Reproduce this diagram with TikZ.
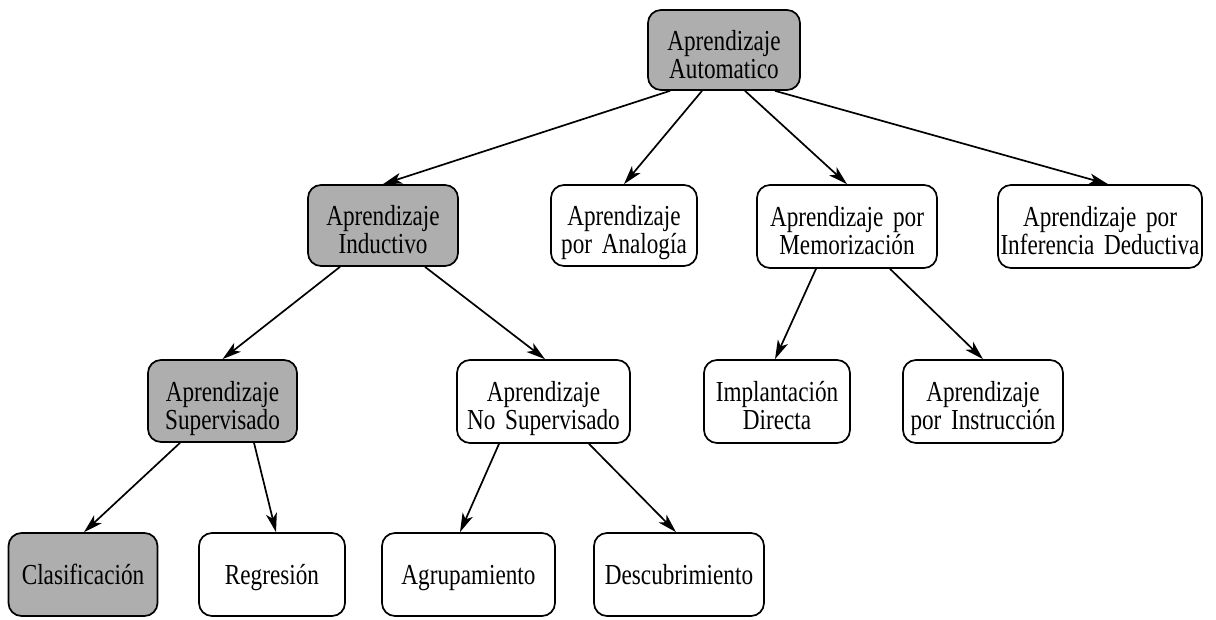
\documentclass[tikz,border=0pt]{standalone}
\usepackage{fontspec}
\setmainfont{Liberation Serif}
\newfontfamily\boxfont[FakeStretch=0.8]{Liberation Serif}
\usetikzlibrary{arrows.meta}

\definecolor{shade}{RGB}{174,174,174}

\tikzset{
  box/.style={draw, line width=1.7pt, rounded corners=13pt, inner sep=0pt, fill=white},
  graybox/.style={box, fill=shade},
  txt/.style={anchor=base, inner sep=0pt, text width=230pt, align=center,
    font=\boxfont\fontsize{29}{28}\selectfont},
  onetxt/.style={txt, yshift=-10pt},
  arr/.style={line width=1.7pt, -{Stealth[length=19pt, width=11pt, inset=5pt]}},
}

\begin{document}
\begin{tikzpicture}[x=1pt, y=-1pt]
  \useasboundingbox (0,0) rectangle (1216,619);

  % boxes
  \node[graybox, minimum width=152pt, minimum height=80pt] (top)   at (724,50)    {};
  \node[graybox, minimum width=150pt, minimum height=81pt] (ind)   at (383,225.5) {};
  \node[box,     minimum width=146pt, minimum height=81pt] (ana)   at (624,225.5) {};
  \node[box,     minimum width=180pt, minimum height=83pt] (memo)  at (847,226.5) {};
  \node[box,     minimum width=204pt, minimum height=83pt] (inf)   at (1100,226.5) {};
  \node[graybox, minimum width=149pt, minimum height=82pt] (sup)   at (222.5,401) {};
  \node[box,     minimum width=173pt, minimum height=83pt] (nosup) at (543.5,401.5) {};
  \node[box,     minimum width=146pt, minimum height=83pt] (impl)  at (777,401.5) {};
  \node[box,     minimum width=160pt, minimum height=83pt] (instr) at (983,401.5) {};
  \node[graybox, minimum width=149pt, minimum height=83pt] (clas)  at (83,574.5)  {};
  \node[box,     minimum width=146pt, minimum height=83pt] (reg)   at (272,574.5) {};
  \node[box,     minimum width=173pt, minimum height=83pt] (agr)   at (468.5,574.5) {};
  \node[box,     minimum width=170pt, minimum height=83pt] (desc)  at (679,574.5) {};

  % labels: two-line texts have their first baseline on the box centre
  \node[txt] (top-t)   at (top.center)   {Aprendizaje\\Automatico};
  \node[txt] (ind-t)   at (ind.center)   {Aprendizaje\\Inductivo};
  \node[txt] (ana-t)   at (ana.center)   {Aprendizaje\\por Analogía};
  \node[txt] (memo-t)  at (memo.center)  {Aprendizaje por\\Memorización};
  \node[txt] (inf-t)   at (inf.center)   {Aprendizaje por\\Inferencia Deductiva};
  \node[txt] (sup-t)   at (sup.center)   {Aprendizaje\\Supervisado};
  \node[txt] (nosup-t) at (nosup.center) {Aprendizaje\\No Supervisado};
  \node[txt] (impl-t)  at (impl.center)  {Implantación\\Directa};
  \node[txt] (instr-t) at (instr.center) {Aprendizaje\\por Instrucción};
  \node[onetxt] (clas-t)  at (clas.center)  {Clasificación};
  \node[onetxt] (reg-t)   at (reg.center)   {Regresión};
  \node[onetxt] (agr-t)   at (agr.center)   {Agrupamiento};
  \node[onetxt] (desc-t)  at (desc.center)  {Descubrimiento};

  % connectors
  \draw[arr] ([xshift=-54pt]top.south) -- (ind.north);
  \draw[arr] ([xshift=-22pt]top.south) -- (ana.north);
  \draw[arr] ([xshift=21pt]top.south)  -- (memo.north);
  \draw[arr] ([xshift=51pt]top.south)  -- ([xshift=8pt]inf.north);

  \draw[arr] ([xshift=-43pt]ind.south) -- (sup.north);
  \draw[arr] ([xshift=42pt]ind.south)  -- ([xshift=1.5pt]nosup.north);

  \draw[arr] ([xshift=-31pt]memo.south) -- ([xshift=-2pt]impl.north);
  \draw[arr] ([xshift=43pt]memo.south)  -- (instr.north);

  \draw[arr] ([xshift=-42.5pt]sup.south) -- ([xshift=1pt]clas.north);
  \draw[arr] ([xshift=31.5pt]sup.south)  -- ([xshift=4pt]reg.north);

  \draw[arr] ([xshift=-44.5pt]nosup.south) -- ([xshift=-8.5pt]agr.north);
  \draw[arr] ([xshift=45.5pt]nosup.south)  -- ([xshift=-3pt]desc.north);
\end{tikzpicture}
\end{document}
